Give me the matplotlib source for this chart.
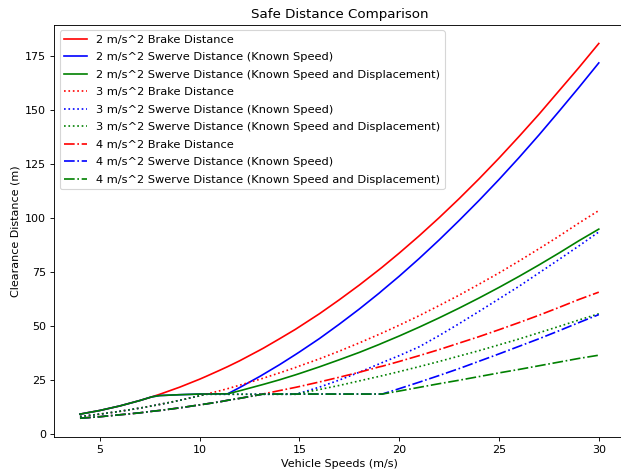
import matplotlib
matplotlib.use('Agg')
import matplotlib.pyplot as plt

speeds = [4, 5, 6, 7, 7.6, 8, 9, 10, 10.3, 11, 11.4, 12, 13, 13.2, 14, 14.8, 15,
          16, 17, 18, 19, 19.15, 20, 21, 22, 23, 24, 25, 26, 27, 28, 29, 30]

brake_2 = [9.1, 10.8, 12.9, 15.4, 17.1, 18.3, 21.6, 25.3, 26.5, 29.4, 31.1, 33.8, 38.7,
           39.7, 44.0, 48.4, 49.6, 55.6, 62.1, 68.9, 76.1, 77.2, 83.7, 91.7, 100.1,
           108.9, 118.1, 127.7, 137.7, 148.0, 158.8, 169.6, 180.8]
swerve_2 = [9.1, 10.8, 12.9, 15.4, 17.1, 17.7, 18.1, 18.4, 18.4, 18.5, 18.5, 21.4, 26.5,
            27.6, 32.0, 36.7, 37.9, 44.1, 50.8, 57.8, 65.2, 66.4, 73.0, 81.2, 89.8,
            98.8, 108.1, 117.8, 127.9, 138.4, 149.3, 160.4, 171.8]
full_2 = [9.1, 10.8, 12.9, 15.4, 17.1, 17.7, 18.1, 18.4, 18.4, 18.5, 18.5, 19.9, 22.4,
          22.9, 25.0, 27.3, 27.9, 31.0, 34.3, 37.7, 41.4, 42.0, 45.3, 49.4, 53.7,
          58.2, 62.9, 67.8, 72.9, 78.2, 83.7, 89.4, 94.8]

brake_3 = [8.0, 9.1, 10.4, 11.9, 12.9, 13.6, 15.5, 17.6, 18.3, 19.9, 20.9, 22.5, 25.2,
           25.8, 28.2, 30.7, 31.4, 34.7, 38.3, 42.1, 46.1, 46.7, 50.3, 54.7, 59.4,
           64.2, 69.3, 74.5, 80.0, 85.7, 91.5, 97.6, 103.4]
swerve_3 = [8.0, 9.1, 10.4, 11.9, 12.9, 13.6, 15.5, 17.6, 18.3, 18.3, 18.3, 18.3, 18.3,
            18.3, 18.3, 18.3, 18.8, 21.6, 24.9, 28.5, 32.4, 33.0, 36.2, 40.3, 45.5,
            51.0, 56.7, 62.5, 68.3, 74.5, 80.7, 87.0, 93.5]
full_3 = [8.0, 9.1, 10.4, 11.9, 12.9, 13.6, 15.5, 17.6, 18.3, 18.3, 18.3, 18.3, 18.3,
          18.3, 18.3, 18.3, 18.7, 20.5, 22.4, 24.5, 26.6, 26.9, 28.8, 31.1, 33.5,
          36.0, 38.5, 41.2, 43.9, 46.8, 49.7, 52.7, 55.6]

brake_4 = [7.2, 7.9, 8.8, 9.7, 10.4, 10.8, 12.0, 13.4, 13.8, 14.8, 15.5, 16.4, 18.1,
           18.5, 20.0, 21.5, 21.9, 24.0, 26.2, 28.5, 31.0, 31.3, 33.5, 36.2, 39.0,
           42.0, 45.0, 48.2, 51.5, 54.9, 58.5, 62.2, 65.6]
swerve_4 = [7.2, 7.9, 8.8, 9.7, 10.4, 10.8, 12.0, 13.4, 13.8, 14.8, 15.5, 16.4, 18.1,
            18.4, 18.4, 18.4, 18.4, 18.4, 18.4, 18.4, 18.4, 18.4, 20.9, 23.9, 27.0,
            30.2, 33.6, 37.0, 40.5, 44.0, 47.7, 51.5, 55.2]
full_4 = [7.2, 7.9, 8.8, 9.7, 10.4, 10.8, 12.0, 13.4, 13.8, 14.8, 15.5, 16.4, 18.1,
          18.4, 18.4, 18.4, 18.4, 18.4, 18.4, 18.4, 18.4, 18.4, 19.8, 21.5, 23.2,
          24.8, 26.5, 28.2, 29.8, 31.5, 33.2, 34.9, 36.4]

accels = [2, 3, 4]
styles = ['-', ':', '-.']
series = [(brake_2, swerve_2, full_2), (brake_3, swerve_3, full_3), (brake_4, swerve_4, full_4)]

# reference looks like an 80 dpi screen grab
fig = plt.figure(figsize=(621 / 80, 476 / 80), dpi=80)
ax = fig.add_axes([0.087, 0.082, 0.919, 0.866])

for a, ls, (brake, swerve, full) in zip(accels, styles, series):
    ax.plot(speeds, brake, 'r', ls=ls, label='%i m/s^2 Brake Distance' % a)
    ax.plot(speeds, swerve, 'b', ls=ls, label='%i m/s^2 Swerve Distance (Known Speed)' % a)
    ax.plot(speeds, full, 'g', ls=ls,
            label='%i m/s^2 Swerve Distance (Known Speed and Displacement)' % a)

ax.set_title('Safe Distance Comparison')
ax.set_xlabel('Vehicle Speeds (m/s)')
ax.set_ylabel('Clearance Distance (m)')
ax.legend(loc='upper left', labelspacing=0.66, prop={'size': 10.2})

fig.savefig('out.png', dpi=80)
